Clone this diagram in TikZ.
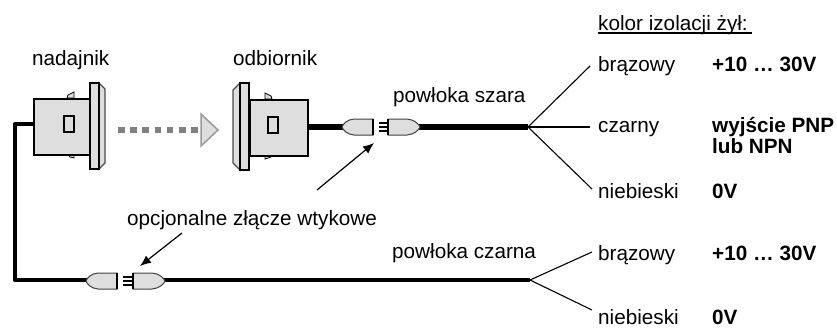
\documentclass[tikz,border=0pt]{standalone}
\usepackage{fontspec}
\usetikzlibrary{arrows.meta}
\setmainfont{Liberation Sans}
\begin{document}
\begin{tikzpicture}[x=1pt,y=-1pt,
 lbl/.style={font=\fontsize{20.7}{24}\selectfont,inner sep=0pt,anchor=base west},
 val/.style={lbl,font=\fontsize{20.7}{24}\selectfont\bfseries},
 part/.style={draw=black,fill=black!13,line width=1.7pt,line join=miter},
 cable/.style={line width=4.8pt,line join=round},
 wire/.style={line width=1.1pt},
 pin/.style={line width=1.2pt},
 callout/.style={line width=1.2pt,-{Latex[length=11pt,width=9pt]}}]
\useasboundingbox (0,0) rectangle (837,327);
% cables
\coordinate (sb) at (33,124);
\coordinate (c1) at (15,124);
\coordinate (c2) at (15,280);
\coordinate (p1) at (90,280);
\coordinate (p2) at (160,280);
\coordinate (fanB) at (530,280);
\coordinate (p3) at (346,127);
\coordinate (p4) at (416,127);
\coordinate (fanA) at (528,127);
\draw[cable] (sb) -- (c1) -- (c2) -- (p1);
\draw[cable] (p2) -- (fanB);
\draw[cable,line width=5.6pt] (307,127) -- (p3);
\draw[cable,line width=5.6pt] (p4) -- (fanA);
% sender
\fill[black!13,draw=black,line width=.8pt] (67,98) -- (68,95) -- (74,92) -- (74,98) -- cycle;
\fill[black!13,draw=black,line width=.8pt] (67,154) -- (70,157) -- (74,158) -- (74,154) -- cycle;
\node[part,minimum width=57pt,minimum height=56pt,inner sep=0pt,anchor=north west] (body1) at (33,98) {};
\node[part,fill=black!13,minimum width=10pt,minimum height=16pt,inner sep=0pt,anchor=north west] (win1) at (63,115) {};
\draw[draw=black!70,fill=black!13,line width=1.2pt] (99,83) -- (105,89) -- (105,163) -- (99,169) -- cycle;
\draw[part] (90,83) rectangle (99,169);
% beam
\draw[black!50,line width=6pt,dash pattern=on 6.6pt off 5.6pt] (118,130) -- (199,130);
\draw[draw=black!40,fill=black!13,line width=1.5pt] (201,114) -- (218,130) -- (201,146) -- cycle;
% receiver
\fill[black!13,draw=black,line width=.8pt] (265,99) -- (265,93) -- (271,96) -- (272,99) -- cycle;
\fill[black!13,draw=black,line width=.8pt] (265,155) -- (265,159) -- (271,157) -- (272,155) -- cycle;
\node[part,minimum width=58pt,minimum height=56pt,inner sep=0pt,anchor=north west] (body2) at (249,99) {};
\node[part,minimum width=10pt,minimum height=16pt,inner sep=0pt,anchor=north west] (win2) at (267,116) {};
\draw[draw=black!70,fill=black!13,line width=1.2pt] (240,83) -- (233,90) -- (233,163) -- (240,170) -- cycle;
\draw[part] (240,83) rectangle (249,170);
% connectors
\def\plugL#1#2{\draw[draw=black!75,fill=black!13,line width=1pt] (#1+31,#2-8) -- (#1+12,#2-8) .. controls (#1+5,#2-7.5) and (#1+1,#2-3) .. (#1,#2) .. controls (#1+1,#2+3) and (#1+5,#2+7.5) .. (#1+12,#2+8) -- (#1+31,#2+8) -- cycle;
 \draw[line width=1.3pt] (#1+31,#2-8) -- (#1+31,#2+8);}
\def\plugR#1#2{\draw[draw=black!75,fill=black!13,line width=1pt] (#1,#2-8) -- (#1+19,#2-8) .. controls (#1+26,#2-7.5) and (#1+31,#2-3) .. (#1+32,#2) .. controls (#1+31,#2+3) and (#1+26,#2+7.5) .. (#1+19,#2+8) -- (#1,#2+8) -- cycle;
 \draw[line width=1.3pt] (#1,#2-8) -- (#1,#2+8);}
\plugL{342}{127}
\plugR{388}{127}
\foreach \y in {123,127,131} \draw[pin] (379,\y) -- (388,\y);
\plugL{86}{281}
\plugR{133}{281}
\foreach \y in {277,281,285} \draw[pin] (123,\y) -- (133,\y);
% wires
\coordinate (w1) at (590,66);
\coordinate (w2) at (590,127);
\coordinate (w3) at (592,189);
\coordinate (w4) at (592,252);
\coordinate (w5) at (592,310);
\draw[wire] (fanA) -- (w1);
\draw[line width=2.8pt] (fanA) -- (w2);
\draw[wire] (fanA) -- (w3);
\draw[wire] (fanB) -- (w4);
\draw[wire] (fanB) -- (w5);
% callouts
\coordinate (a1) at (317,190);
\coordinate (a1e) at (374,143);
\coordinate (a2) at (182,233);
\coordinate (a2e) at (140,266);
\draw[callout] (a1) -- (a1e);
\draw[callout] (a2) -- (a2e);
% text
\node[lbl] (t1) at (32,65) {nadajnik};
\node[lbl] (t2) at (233,65) {odbiornik};
\node[lbl] (t3) at (393,102) {powłoka szara};
\node[lbl] (t4) at (127,225) {opcjonalne złącze wtykowe};
\node[lbl] (t5) at (392,258) {powłoka czarna};
\node[lbl] (t6) at (598,30) {kolor izolacji żył:};
\draw[line width=1.2pt] (598,33) -- (752,33);
\node[lbl] at (598,71) {brązowy};
\node[val] at (712,71) {+10 … 30V};
\node[lbl] at (598,132) {czarny};
\node[val] at (712,132) {wyjście PNP};
\node[val] at (712,153) {lub NPN};
\node[lbl] at (598,198) {niebieski};
\node[val] at (712,198) {0V};
\node[lbl] at (598,260) {brązowy};
\node[val] at (712,260) {+10 … 30V};
\node[lbl] at (598,324) {niebieski};
\node[val] at (712,324) {0V};
\end{tikzpicture}
\end{document}
